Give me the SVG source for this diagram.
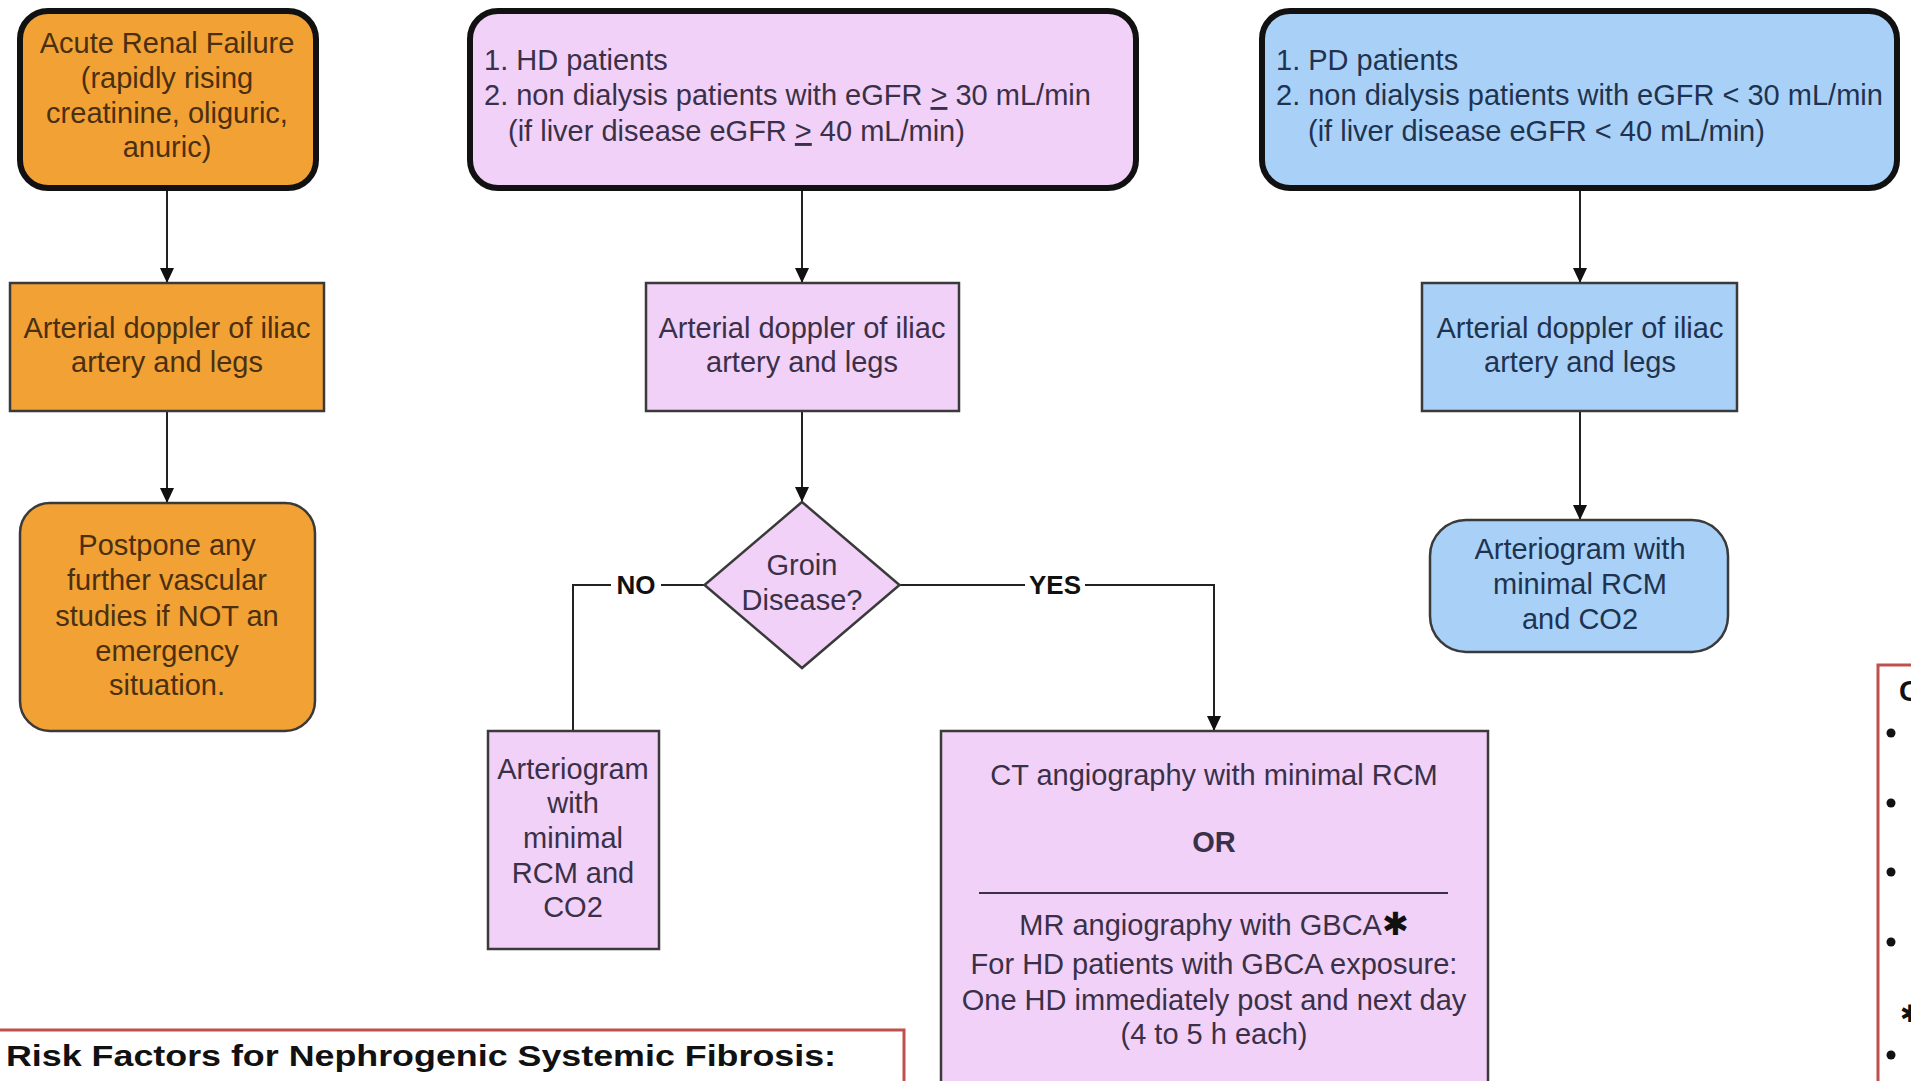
<svg xmlns="http://www.w3.org/2000/svg" width="1911" height="1081" viewBox="0 0 1911 1081">
<defs>
<marker id="arr" markerUnits="userSpaceOnUse" markerWidth="16" markerHeight="16" refX="15" refY="8" orient="auto">
<path d="M0,1 L15,8 L0,15 z" fill="#111"/>
</marker>
<style>
text{font-family:"Liberation Sans",Arial,sans-serif;font-size:29px}
.c{text-anchor:middle}
.org{fill:#F2A135}
.pnk{fill:#F1D1F7}
.blu{fill:#A9D1F7}
.thick{stroke:#111;stroke-width:6}
.thin{stroke:#3a3a3a;stroke-width:2.5}
.to{fill:#4a3010}
.tp{fill:#3a3048}
.tb{fill:#1f3350}
.conn{fill:none;stroke:#222;stroke-width:2}
.lbl{font-weight:bold;fill:#111;font-size:26px}
.red{fill:#fff;stroke:#C0504D;stroke-width:3}
.u{text-decoration:underline}
</style>
</defs>
<rect width="1911" height="1081" fill="#fff"/>

<g id="connectors">
<line class="conn" x1="167" y1="189" x2="167" y2="283" marker-end="url(#arr)"/>
<line class="conn" x1="167" y1="411" x2="167" y2="503" marker-end="url(#arr)"/>
<line class="conn" x1="802" y1="189" x2="802" y2="283" marker-end="url(#arr)"/>
<line class="conn" x1="802" y1="411" x2="802" y2="502" marker-end="url(#arr)"/>
<path class="conn" d="M704.5,585 H573 V731"/>
<path class="conn" d="M899.5,585 H1214 V731" marker-end="url(#arr)"/>
<line class="conn" x1="1580" y1="189" x2="1580" y2="283" marker-end="url(#arr)"/>
<line class="conn" x1="1580" y1="411" x2="1580" y2="520" marker-end="url(#arr)"/>
<rect x="611" y="570" width="50" height="30" fill="#fff"/>
<text class="lbl c" x="636" y="594">NO</text>
<rect x="1025" y="570" width="60" height="30" fill="#fff"/>
<text class="lbl c" x="1055" y="594">YES</text>
</g>

<g id="arf">
<rect class="org thick" x="20" y="11" width="296" height="177" rx="28"/>
<text class="c to" x="167" y="53">Acute Renal Failure</text>
<text class="c to" x="167" y="88">(rapidly rising</text>
<text class="c to" x="167" y="123">creatinine, oliguric,</text>
<text class="c to" x="167" y="157">anuric)</text>
</g>

<g id="doppler-arf">
<rect class="org thin" x="10" y="283" width="314" height="128"/>
<text class="c to" x="167" y="338">Arterial doppler of iliac</text>
<text class="c to" x="167" y="372">artery and legs</text>
</g>

<g id="postpone">
<rect class="org thin" x="20" y="503" width="295" height="228" rx="30"/>
<text class="c to" x="167" y="555">Postpone any</text>
<text class="c to" x="167" y="590">further vascular</text>
<text class="c to" x="167" y="626">studies if NOT an</text>
<text class="c to" x="167" y="661">emergency</text>
<text class="c to" x="167" y="695">situation.</text>
</g>

<g id="hd">
<rect class="pnk thick" x="470" y="11" width="666" height="177" rx="28"/>
<text class="tp" x="484" y="70">1. HD patients</text>
<text class="tp" x="484" y="105">2. non dialysis patients with eGFR <tspan class="u">&gt;</tspan> 30 mL/min</text>
<text class="tp" x="508" y="141">(if liver disease eGFR <tspan class="u">&gt;</tspan> 40 mL/min)</text>
</g>

<g id="doppler-hd">
<rect class="pnk thin" x="646" y="283" width="313" height="128"/>
<text class="c tp" x="802" y="338">Arterial doppler of iliac</text>
<text class="c tp" x="802" y="372">artery and legs</text>
</g>

<g id="groin">
<path class="pnk thin" d="M802,502 L899.5,585 L802,668 L704.5,585 z"/>
<text class="c tp" x="802" y="575">Groin</text>
<text class="c tp" x="802" y="610">Disease?</text>
</g>

<g id="arteriogram-hd">
<rect class="pnk thin" x="488" y="731" width="171" height="218"/>
<text class="c tp" x="573" y="779">Arteriogram</text>
<text class="c tp" x="573" y="813">with</text>
<text class="c tp" x="573" y="848">minimal</text>
<text class="c tp" x="573" y="883">RCM and</text>
<text class="c tp" x="573" y="917">CO2</text>
</g>

<g id="ct-mr">
<rect class="pnk thin" x="941" y="731" width="547" height="380"/>
<text class="c tp" x="1214" y="785">CT angiography with minimal RCM</text>
<text class="c tp" x="1214" y="852" font-weight="bold">OR</text>
<line x1="979" y1="893" x2="1448" y2="893" stroke="#3a3048" stroke-width="2"/>
<text class="c tp" x="1214" y="935">MR angiography with GBCA<tspan fill="#111" style="font-family:'DejaVu Sans',sans-serif;font-size:32px">✱</tspan></text>
<text class="c tp" x="1214" y="974">For HD patients with GBCA exposure:</text>
<text class="c tp" x="1214" y="1010">One HD immediately post and next day</text>
<text class="c tp" x="1214" y="1044">(4 to 5 h each)</text>
</g>

<g id="pd">
<rect class="blu thick" x="1262" y="11" width="635" height="177" rx="28"/>
<text class="tb" x="1276" y="70">1. PD patients</text>
<text class="tb" x="1276" y="105">2. non dialysis patients with eGFR &lt; 30 mL/min</text>
<text class="tb" x="1308" y="141">(if liver disease eGFR &lt; 40 mL/min)</text>
</g>

<g id="doppler-pd">
<rect class="blu thin" x="1422" y="283" width="315" height="128"/>
<text class="c tb" x="1580" y="338">Arterial doppler of iliac</text>
<text class="c tb" x="1580" y="372">artery and legs</text>
</g>

<g id="arteriogram-pd">
<rect class="blu thin" x="1430" y="520" width="298" height="132" rx="36"/>
<text class="c tb" x="1580" y="559">Arteriogram with</text>
<text class="c tb" x="1580" y="594">minimal RCM</text>
<text class="c tb" x="1580" y="629">and CO2</text>
</g>

<g id="risk-factors">
<rect class="red" x="-5" y="1030" width="909" height="100"/>
<text x="6" y="1066" font-weight="bold" font-size="34" fill="#111" textLength="830" lengthAdjust="spacingAndGlyphs">Risk Factors for Nephrogenic Systemic Fibrosis:</text>
</g>

<g id="right-panel">
<rect class="red" x="1878" y="665" width="100" height="500"/>
<text x="1899" y="701" font-weight="bold" fill="#111">C</text>
<g fill="#111">
<circle cx="1891" cy="733" r="4.5"/>
<circle cx="1891" cy="803" r="4.5"/>
<circle cx="1891" cy="872" r="4.5"/>
<circle cx="1891" cy="942" r="4.5"/>
<circle cx="1891" cy="1055" r="4.5"/>
</g>
<text x="1900" y="1022" fill="#111" style="font-family:'DejaVu Sans',sans-serif;font-size:24px">✱</text>
</g>
</svg>
